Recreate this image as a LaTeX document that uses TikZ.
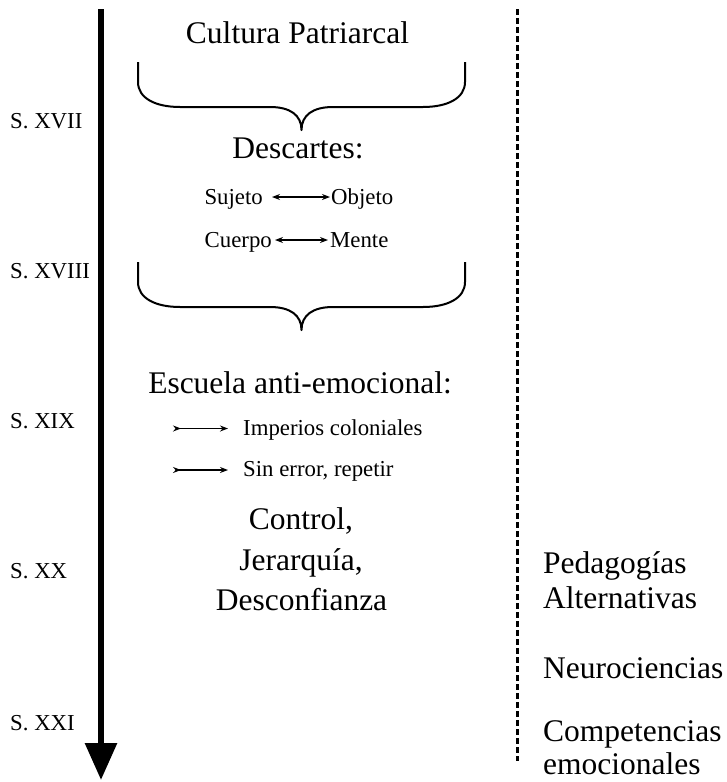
\documentclass[tikz,border=0pt]{standalone}
\usepackage{fontspec}
\setmainfont{Liberation Serif}
\usetikzlibrary{arrows.meta}
\newcommand\bigtxt{\fontsize{31.5}{36}\selectfont}
\newcommand\smalltxt{\fontsize{22.8}{26}\selectfont}
\tikzset{
  x=1pt, y=-1pt,
  bigt/.style={inner sep=0pt, font=\bigtxt},
  smallt/.style={inner sep=0pt, font=\smalltxt},
  dblarrow/.style={line width=1.2pt, {Stealth[length=8pt,width=6pt]}-{Stealth[length=8pt,width=6pt]}},
  fwdarrow/.style={line width=1.2pt, {Stealth[length=8pt,width=6pt,reversed]}-{Stealth[length=8pt,width=6pt]}},
  bigbrace/.pic={
    \draw[line width=2pt, line join=round]
      (138,0) -- (138,20) .. controls (138,36) and (155,45) .. (180,45)
      -- (270,45) .. controls (290,45) and (301.5,53) .. (301.5,68)
      .. controls (301.5,53) and (313,45) .. (333,45)
      -- (423,45) .. controls (448,45) and (465,36) .. (465,20) -- (465,0);
  }
}
\begin{document}
\begin{tikzpicture}
\useasboundingbox (0,0) rectangle (727,782);
% timeline
\coordinate (tA) at (101,9);
\coordinate (tB) at (101,780);
\draw[line width=6pt, -{Triangle[length=37pt,width=31pt]}] (tA) -- (tB);
% dashed line
\coordinate (dA) at (517.5,9);
\coordinate (dB) at (517.5,761);
\draw[line width=2.7pt, dash pattern=on 6pt off 3pt] (dA) -- (dB);
% century labels
\node[smallt, anchor=base west] (s17) at (10,128) {S. XVII};
\node[smallt, anchor=base west] (s18) at (10,278) {S. XVIII};
\node[smallt, anchor=base west] (s19) at (10,428) {S. XIX};
\node[smallt, anchor=base west] (s20) at (10,578) {S. XX};
\node[smallt, anchor=base west] (s21) at (10,730) {S. XXI};
% center column
\node[bigt, anchor=base] (cult) at (297.5,43) {Cultura Patriarcal};
\pic at (0,62) {bigbrace};
\node[bigt, anchor=base] (desc) at (298,158) {Descartes:};
\node[smallt, anchor=base east] (suj) at (263,204) {Sujeto};
\node[smallt, anchor=base west] (obj) at (331,204) {Objeto};
\draw[dblarrow] ([xshift=9pt,yshift=7pt]suj.base east) -- ([xshift=-1pt,yshift=7pt]obj.base west);
\node[smallt, anchor=base east] (cue) at (272,247) {Cuerpo};
\node[smallt, anchor=base west] (men) at (330,247) {Mente};
\draw[dblarrow] ([xshift=3pt,yshift=7pt]cue.base east) -- ([xshift=-2pt,yshift=7pt]men.base west);
\pic at (0,262) {bigbrace};
\node[bigt, anchor=base] (esc) at (300,393) {Escuela anti-emocional:};
\node[smallt, anchor=base west] (imp) at (243,435) {Imperios coloniales};
\coordinate (impS) at (173,428.5);
\draw[fwdarrow] (impS) -- ([xshift=-15pt,yshift=6.5pt]imp.base west);
\node[smallt, anchor=base west] (sin) at (243,476.5) {Sin error, repetir};
\coordinate (sinS) at (173,470);
\draw[fwdarrow] (sinS) -- ([xshift=-15pt,yshift=6.5pt]sin.base west);
\node[bigt, anchor=base] (ctl) at (301,529) {Control,};
\node[bigt, anchor=base] (jer) at (301,570) {Jerarquía,};
\node[bigt, anchor=base] (dsc) at (301.5,610) {Desconfianza};
% right column
\node[bigt, anchor=base west] (ped) at (543,573) {Pedagogías};
\node[bigt, anchor=base west] (alt) at (543,608) {Alternativas};
\node[bigt, anchor=base west] (neu) at (543,678) {Neurociencias};
\node[bigt, anchor=base west] (com) at (543,741) {Competencias};
\node[bigt, anchor=base west] (emo) at (543,774) {emocionales};
\end{tikzpicture}
\end{document}
